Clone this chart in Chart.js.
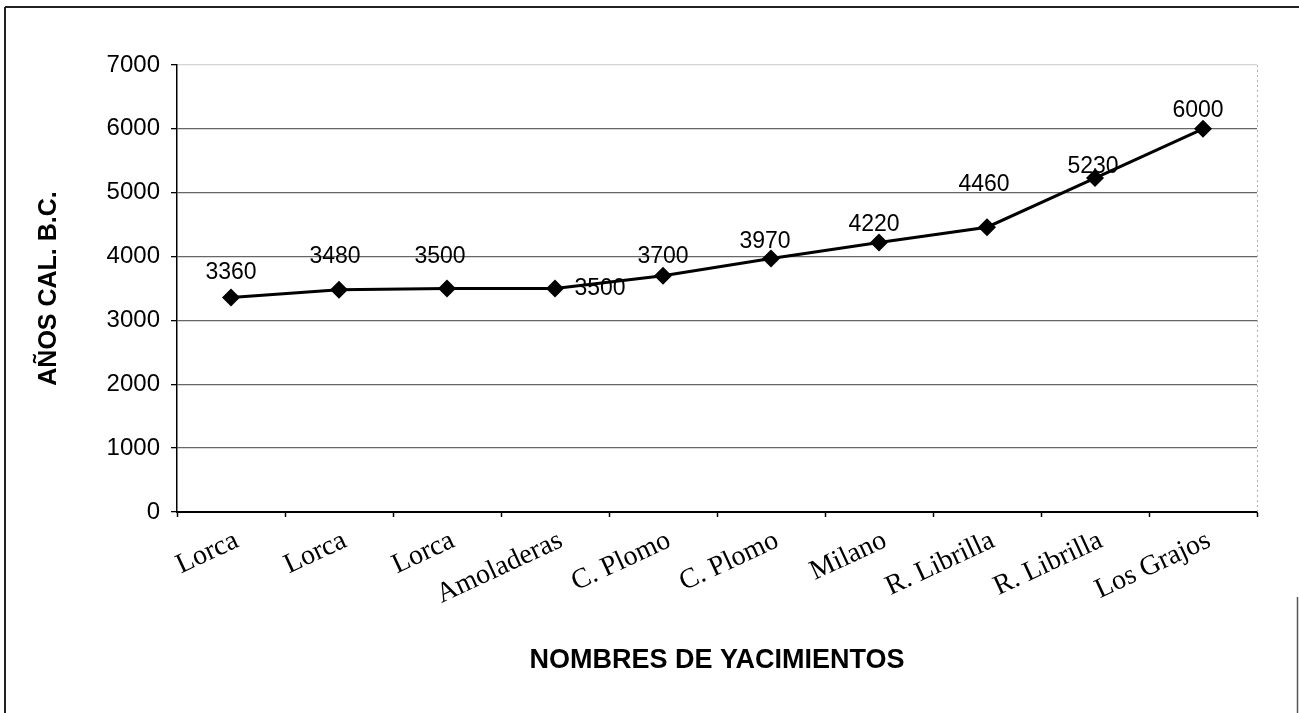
<!DOCTYPE html>
<html><head><meta charset="utf-8">
<script src="https://cdn.jsdelivr.net/npm/chart.js@4/dist/chart.umd.min.js"></script>
<style>html,body{margin:0;padding:0;background:#fff;} #wrap{width:1299px;height:713px;}</style>
</head><body><div id="wrap"><canvas id="c" width="1299" height="713"></canvas></div>
<script>
const categories = ['Lorca','Lorca','Lorca','Amoladeras','C. Plomo','C. Plomo','Milano','R. Librilla','R. Librilla','Los Grajos'];
const ageValues = [3360,3480,3500,3500,3700,3970,4220,4460,5230,6000];
const yMin = 0, yMax = 7000, yStep = 1000;
const yTitle = 'AÑOS CAL. B.C.';
const xTitle = 'NOMBRES DE YACIMIENTOS';
// label placement (pixel offsets from each point), as in the reference
const labelOffsets = [[0,-25],[-4,-33],[-7,-32],[45,0],[0,-19],[-6,-17],[-5,-18],[-3,-43],[-2,-11],[-5,-18]];

const SANS = '"Liberation Sans", Arial, sans-serif';
const SERIF = '"Liberation Serif", "Times New Roman", serif';

const framePlugin = {
  id: 'frame',
  beforeDraw(chart) {
    const ctx = chart.ctx;
    ctx.save();
    ctx.fillStyle = '#fff';
    ctx.fillRect(0, 0, chart.width, chart.height);
    ctx.restore();
  },
  beforeDatasetsDraw(chart) {
    const ctx = chart.ctx, a = chart.chartArea;
    ctx.save();
    ctx.strokeStyle = '#b0b0b0';
    ctx.lineWidth = 1;
    ctx.setLineDash([2, 3]);
    ctx.beginPath();
    ctx.moveTo(a.right + 0.5, a.top);
    ctx.lineTo(a.right + 0.5, a.bottom);
    ctx.stroke();
    ctx.restore();
  },
  afterDraw(chart) {
    const ctx = chart.ctx;
    ctx.save();
    ctx.strokeStyle = '#222';
    ctx.lineWidth = 2;
    ctx.beginPath();
    ctx.moveTo(5, 7); ctx.lineTo(chart.width, 7);
    ctx.moveTo(5, 7); ctx.lineTo(5, chart.height);
    ctx.stroke();
    ctx.lineWidth = 1.5;
    ctx.strokeStyle = '#555';
    ctx.beginPath();
    ctx.moveTo(1297.5, 597); ctx.lineTo(1297.5, chart.height);
    ctx.stroke();
    ctx.restore();
  }
};

const labelPlugin = {
  id: 'valueLabels',
  afterDatasetsDraw(chart) {
    const ctx = chart.ctx;
    const meta = chart.getDatasetMeta(0);
    ctx.save();
    ctx.font = '23px ' + SANS;
    ctx.fillStyle = '#000';
    ctx.textAlign = 'center';
    ctx.textBaseline = 'middle';
    meta.data.forEach((pt, i) => {
      const off = labelOffsets[i] || [0, -20];
      ctx.fillText(String(ageValues[i]), pt.x + off[0], pt.y + off[1]);
    });
    ctx.restore();
  }
};

new Chart(document.getElementById('c'), {
  type: 'line',
  data: {
    labels: categories,
    datasets: [{
      data: ageValues,
      borderColor: '#000',
      borderWidth: 3,
      tension: 0,
      pointStyle: 'rectRot',
      pointRadius: 9,
      pointHoverRadius: 9,
      pointBackgroundColor: '#000',
      pointBorderColor: '#000',
      pointBorderWidth: 0,
      fill: false
    }]
  },
  options: {
    responsive: false,
    animation: false,
    events: [],
    layout: { padding: { top: 65, right: 42, left: 0, bottom: 0 } },
    plugins: { legend: { display: false }, tooltip: { enabled: false } },
    scales: {
      x: {
        offset: true,
        grid: { offset: true, drawOnChartArea: false, drawTicks: true, tickLength: 5, tickColor: '#000', tickWidth: 1.5 },
        border: { display: true, color: '#000', width: 2 },
        ticks: {
          autoSkip: false, maxRotation: 25, minRotation: 25, padding: 7, labelOffset: 6,
          color: '#000', font: { family: SERIF, size: 28 }
        },
        title: { display: true, text: xTitle, color: '#000', font: { family: SANS, size: 27, weight: 'bold' }, padding: { top: 0, bottom: 36 } },
        afterFit(s) { s.height = 201; }
      },
      y: {
        min: yMin, max: yMax,
        ticks: { stepSize: yStep, padding: 11, color: '#000', font: { family: SANS, size: 24 }, callback: (v) => String(v) },
        grid: {
          color: (c) => c.tick && c.tick.value === yMax ? '#d4d4d4' : (c.tick && c.tick.value === yMin ? 'rgba(0,0,0,0)' : '#666'),
          lineWidth: 1.3, drawTicks: true, tickLength: 6, tickColor: '#000'
        },
        border: { display: true, color: '#000', width: 1.5 },
        title: { display: true, text: yTitle, color: '#000', font: { family: SANS, size: 25, weight: 'bold' }, padding: { top: 34, bottom: 0 } },
        afterFit(s) { s.width = 177; }
      }
    }
  },
  plugins: [framePlugin, labelPlugin]
});
</script>
</body></html>
